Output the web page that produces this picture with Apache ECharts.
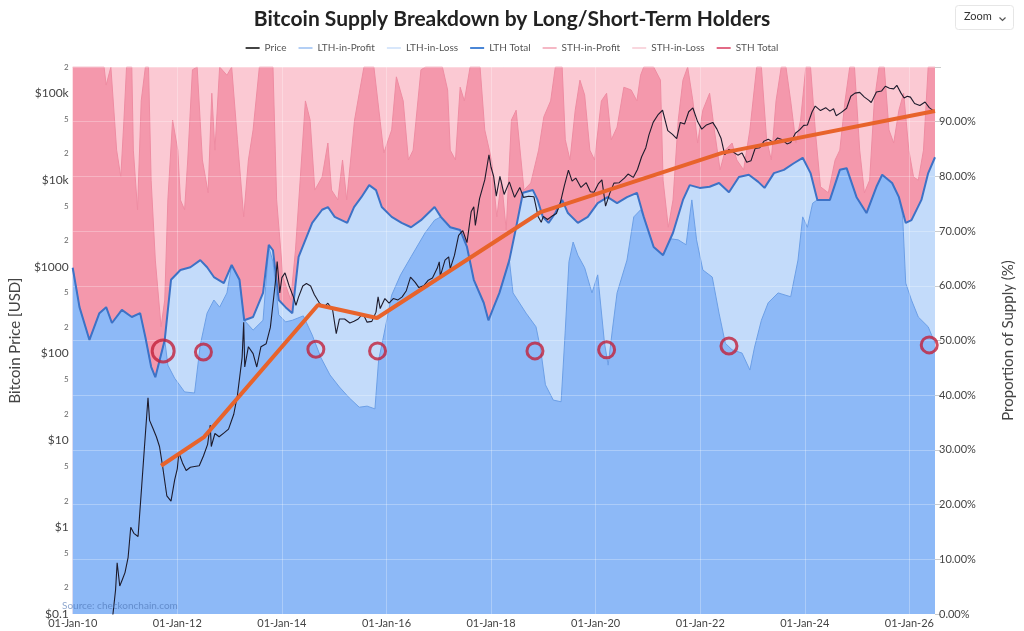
<!DOCTYPE html>
<html>
<head>
<meta charset="utf-8">
<script src="https://cdn.jsdelivr.net/npm/echarts/dist/echarts.min.js"></script>
<style>html,body{margin:0;padding:0;background:#fff}#c{width:1024px;height:631px}</style>
</head>
<body>
<div id="c"></div>
<script>
// ---------- data (decimal year, value) ----------
const xTickYears = [2010, 2012, 2014, 2016, 2018, 2020, 2022, 2024, 2026];
const priceTicks = [0.1,0.2,0.5,1,2,5,10,20,50,100,200,500,1000,2000,5000,10000,20000,50000,100000,200000];
const supplyTicks = [0,10,20,30,40,50,60,70,80,90];

// LTH Total, % of supply
const lthTotal = [
[2010.00,63.3],[2010.13,56.1],[2010.32,50.1],[2010.51,55.0],[2010.64,56.1],[2010.75,53.2],[2010.94,55.6],[2011.13,54.3],[2011.29,55.0],[2011.39,50.6],[2011.50,45.2],[2011.58,43.3],[2011.76,50.1],[2011.88,61.1],[2012.06,62.9],[2012.25,63.4],[2012.44,64.7],[2012.57,63.4],[2012.70,61.6],[2012.89,60.5],[2013.04,63.8],[2013.19,61.1],[2013.28,53.7],[2013.45,54.3],[2013.64,58.7],[2013.75,67.5],[2013.83,66.5],[2013.94,57.4],[2014.07,56.1],[2014.20,55.0],[2014.32,65.3],[2014.58,71.5],[2014.77,73.9],[2014.88,74.4],[2015.01,72.6],[2015.25,71.5],[2015.38,74.4],[2015.52,76.2],[2015.67,78.4],[2015.80,77.5],[2015.91,74.4],[2016.10,72.6],[2016.29,71.5],[2016.47,70.7],[2016.66,72.0],[2016.92,74.4],[2017.04,72.6],[2017.22,70.7],[2017.41,70.2],[2017.54,67.1],[2017.67,61.1],[2017.86,56.9],[2017.95,53.7],[2018.05,56.1],[2018.16,58.7],[2018.35,64.7],[2018.48,70.7],[2018.61,77.0],[2018.80,77.5],[2018.89,75.7],[2018.99,72.6],[2019.10,71.5],[2019.23,73.3],[2019.36,75.7],[2019.47,73.3],[2019.66,71.5],[2019.85,72.6],[2020.04,75.1],[2020.23,76.2],[2020.41,75.1],[2020.60,76.2],[2020.79,77.0],[2020.92,72.6],[2021.11,67.1],[2021.29,65.6],[2021.48,69.7],[2021.67,75.7],[2021.80,78.4],[2021.99,77.9],[2022.18,78.1],[2022.36,78.8],[2022.55,77.1],[2022.74,79.9],[2022.93,80.3],[2023.11,79.0],[2023.23,77.9],[2023.41,80.6],[2023.60,81.2],[2023.79,82.4],[2023.96,83.4],[2024.11,80.6],[2024.24,75.7],[2024.48,75.7],[2024.67,81.2],[2024.80,81.5],[2024.99,76.2],[2025.18,73.3],[2025.37,78.1],[2025.48,80.3],[2025.67,78.8],[2025.80,76.2],[2025.93,71.5],[2026.04,72.0],[2026.23,75.7],[2026.36,80.6],[2026.49,83.5]
];

// LTH-in-Profit, % of supply
const lthProfit = [
[2010.00,63.3],[2010.13,56.1],[2010.32,50.1],[2010.51,55.0],[2010.64,56.1],[2010.75,53.2],[2010.94,55.6],[2011.13,54.3],[2011.29,55.0],[2011.39,50.6],[2011.50,45.2],[2011.58,43.3],[2011.76,50.1],[2011.82,45.5],[2011.95,43.1],[2012.14,40.6],[2012.33,40.4],[2012.44,49.2],[2012.57,55.0],[2012.70,57.4],[2012.81,56.1],[2012.95,58.7],[2013.04,63.8],[2013.19,61.1],[2013.28,53.7],[2013.45,51.9],[2013.64,53.7],[2013.75,67.1],[2013.83,64.4],[2013.94,54.7],[2014.07,53.4],[2014.20,53.7],[2014.41,54.5],[2014.58,51.0],[2014.75,46.8],[2014.92,43.7],[2015.10,41.5],[2015.29,39.5],[2015.48,37.8],[2015.63,38.0],[2015.78,37.5],[2015.85,46.4],[2015.95,51.0],[2016.10,58.3],[2016.27,62.0],[2016.47,65.3],[2016.74,69.7],[2016.92,72.0],[2017.04,72.6],[2017.22,70.7],[2017.41,70.2],[2017.54,67.1],[2017.67,61.1],[2017.86,56.9],[2017.95,53.7],[2018.05,56.1],[2018.16,58.7],[2018.35,64.7],[2018.42,58.7],[2018.67,55.0],[2018.86,52.5],[2018.95,48.3],[2019.04,41.9],[2019.19,39.1],[2019.34,38.8],[2019.42,51.9],[2019.49,64.4],[2019.57,68.0],[2019.66,65.6],[2019.79,63.3],[2019.93,58.7],[2020.04,62.0],[2020.17,49.5],[2020.24,45.5],[2020.32,51.9],[2020.41,58.7],[2020.60,64.7],[2020.73,72.6],[2020.86,73.9],[2020.92,72.6],[2021.11,67.1],[2021.29,65.6],[2021.43,68.6],[2021.58,68.4],[2021.73,67.5],[2021.84,75.7],[2021.93,68.4],[2022.05,62.9],[2022.23,61.6],[2022.36,55.0],[2022.48,49.5],[2022.61,48.3],[2022.80,47.7],[2022.95,44.6],[2023.04,48.8],[2023.17,53.7],[2023.30,56.9],[2023.49,58.7],[2023.73,58.0],[2023.87,64.7],[2023.96,72.6],[2024.05,70.7],[2024.15,75.1],[2024.24,75.7],[2024.48,75.7],[2024.67,81.2],[2024.80,81.5],[2024.99,76.2],[2025.18,73.3],[2025.37,78.1],[2025.48,80.3],[2025.67,78.8],[2025.80,76.2],[2025.87,72.9],[2025.93,60.5],[2026.04,57.4],[2026.17,54.3],[2026.36,52.5],[2026.49,49.5]
];

// upper edge of the STH-in-Profit band (LTH + STH-in-Profit), % of supply
const sthProfitTop = [
[2010.00,100],[2010.60,100],[2010.64,96.7],[2010.73,100],[2010.84,84.8],[2010.92,79.9],[2010.98,90.3],[2011.03,100],[2011.13,100],[2011.16,84.8],[2011.24,73.9],[2011.31,93.8],[2011.39,100],[2011.45,100],[2011.50,79.3],[2011.58,64.7],[2011.69,52.5],[2011.76,57.4],[2011.82,75.7],[2011.91,90.3],[2012.01,84.8],[2012.06,75.7],[2012.14,73.9],[2012.20,83.0],[2012.29,99.5],[2012.38,100],[2012.48,83.0],[2012.59,77.0],[2012.66,95.2],[2012.72,84.8],[2012.81,100],[2012.95,98.5],[2013.04,100],[2013.15,86.7],[2013.27,72.6],[2013.36,83.0],[2013.45,88.5],[2013.57,100],[2013.83,100],[2013.90,75.7],[2014.02,61.6],[2014.17,57.4],[2014.26,66.5],[2014.35,79.3],[2014.45,93.8],[2014.54,90.3],[2014.63,77.5],[2014.77,79.9],[2014.88,86.1],[2014.95,77.5],[2015.07,75.7],[2015.16,83.0],[2015.24,75.7],[2015.39,90.3],[2015.48,95.2],[2015.57,100],[2015.76,100],[2015.95,84.3],[2016.10,88.5],[2016.19,98.2],[2016.32,93.8],[2016.42,83.0],[2016.51,84.8],[2016.66,99.5],[2016.75,100],[2017.07,100],[2017.17,95.8],[2017.22,84.8],[2017.32,83.0],[2017.41,96.3],[2017.49,93.8],[2017.60,100],[2017.79,100],[2017.88,88.5],[2018.01,83.0],[2018.11,72.6],[2018.20,79.3],[2018.29,70.2],[2018.39,90.3],[2018.48,92.1],[2018.63,77.5],[2018.76,78.8],[2018.91,84.8],[2019.01,90.9],[2019.14,93.8],[2019.23,100],[2019.36,100],[2019.42,86.7],[2019.51,83.0],[2019.61,92.1],[2019.70,97.6],[2019.79,94.9],[2019.89,84.8],[2019.98,83.0],[2020.11,93.8],[2020.21,95.2],[2020.30,86.7],[2020.41,89.0],[2020.54,96.3],[2020.68,95.8],[2020.79,93.8],[2020.86,98.5],[2020.92,100],[2021.11,100],[2021.24,97.6],[2021.29,79.3],[2021.39,70.7],[2021.48,75.7],[2021.58,90.3],[2021.67,97.6],[2021.76,100],[2021.86,93.8],[2021.95,86.1],[2022.05,92.1],[2022.18,95.2],[2022.27,88.5],[2022.38,81.2],[2022.48,84.8],[2022.61,86.1],[2022.70,83.0],[2022.83,81.2],[2022.95,88.5],[2023.08,100],[2023.17,100],[2023.27,86.7],[2023.36,83.0],[2023.45,93.8],[2023.55,100],[2023.64,100],[2023.73,93.8],[2023.83,86.1],[2023.92,90.3],[2024.02,100],[2024.11,100],[2024.20,88.5],[2024.30,78.1],[2024.45,77.0],[2024.58,83.0],[2024.67,84.8],[2024.77,93.8],[2024.86,100],[2024.95,100],[2025.05,84.8],[2025.14,77.0],[2025.24,79.3],[2025.33,93.8],[2025.42,100],[2025.52,100],[2025.61,88.5],[2025.70,86.1],[2025.80,92.1],[2025.89,95.2],[2025.99,84.8],[2026.08,79.9],[2026.17,79.3],[2026.27,84.8],[2026.36,100],[2026.49,100]
];

// upper edge of the STH-in-Loss band (top of the stack)
const sthLossTop = [[2010.00,100],[2026.49,100]];

// Bitcoin price, USD
const price = [
[2010.54,0.05],[2010.62,0.07],[2010.70,0.06],[2010.77,0.10],[2010.82,0.19],[2010.85,0.39],[2010.90,0.21],[2010.95,0.25],[2011.00,0.30],[2011.06,0.45],[2011.11,1.00],[2011.17,0.85],[2011.25,0.78],[2011.32,3.0],[2011.37,8.0],[2011.44,31],[2011.47,17],[2011.53,14],[2011.60,11],[2011.66,8.5],[2011.72,5.0],[2011.80,2.3],[2011.88,2.0],[2011.95,3.5],[2012.00,4.7],[2012.03,7.2],[2012.10,5.5],[2012.17,4.5],[2012.25,4.9],[2012.33,5.0],[2012.42,5.1],[2012.50,6.6],[2012.58,9.0],[2012.63,15],[2012.65,8.5],[2012.72,12],[2012.80,11],[2012.90,12.3],[2012.98,13.5],[2013.08,20],[2013.15,33],[2013.24,90],[2013.27,230],[2013.29,70],[2013.36,120],[2013.45,100],[2013.52,70],[2013.60,120],[2013.70,130],[2013.78,200],[2013.88,700],[2013.91,1150],[2013.96,500],[2014.00,750],[2014.06,850],[2014.14,600],[2014.22,450],[2014.27,360],[2014.32,450],[2014.40,600],[2014.47,640],[2014.55,600],[2014.62,480],[2014.72,380],[2014.80,340],[2014.88,380],[2014.97,320],[2015.04,170],[2015.10,250],[2015.20,250],[2015.30,225],[2015.38,235],[2015.46,250],[2015.55,290],[2015.63,230],[2015.72,235],[2015.80,300],[2015.84,450],[2015.88,330],[2015.97,430],[2016.05,380],[2016.13,430],[2016.22,415],[2016.30,450],[2016.38,530],[2016.46,760],[2016.55,660],[2016.62,575],[2016.72,610],[2016.80,700],[2016.88,740],[2016.97,960],[2017.01,1140],[2017.03,780],[2017.12,1190],[2017.19,1300],[2017.22,950],[2017.30,1350],[2017.38,2300],[2017.46,2600],[2017.54,1900],[2017.62,4300],[2017.67,4900],[2017.70,3000],[2017.78,6100],[2017.88,10000],[2017.96,19500],[2018.00,14000],[2018.05,11000],[2018.10,6500],[2018.17,11000],[2018.25,6800],[2018.35,9500],[2018.45,6300],[2018.55,8200],[2018.62,6300],[2018.72,6500],[2018.82,6400],[2018.90,3800],[2018.96,3250],[2019.00,3800],[2019.08,3500],[2019.17,3850],[2019.25,4100],[2019.32,5300],[2019.40,8500],[2019.48,13000],[2019.55,9700],[2019.62,10500],[2019.72,8200],[2019.82,9300],[2019.90,7300],[2019.97,7200],[2020.05,9000],[2020.12,10000],[2020.19,5000],[2020.27,7000],[2020.35,9200],[2020.45,9300],[2020.55,10500],[2020.62,11700],[2020.72,10700],[2020.80,13200],[2020.88,18500],[2020.96,23500],[2021.02,33000],[2021.10,46000],[2021.20,57000],[2021.28,63500],[2021.38,37000],[2021.47,33500],[2021.55,30000],[2021.62,46000],[2021.70,44000],[2021.78,61000],[2021.86,67500],[2021.95,47000],[2022.03,38500],[2022.12,43000],[2022.24,46000],[2022.32,38500],[2022.40,30000],[2022.47,19500],[2022.55,22500],[2022.63,21000],[2022.72,19300],[2022.80,20500],[2022.89,16000],[2022.97,16600],[2023.05,23000],[2023.14,23500],[2023.22,28000],[2023.30,29500],[2023.40,27000],[2023.48,30500],[2023.56,29200],[2023.66,26000],[2023.73,27000],[2023.82,34500],[2023.90,37700],[2023.98,42500],[2024.05,43000],[2024.14,61000],[2024.20,71000],[2024.30,63000],[2024.40,68000],[2024.48,62000],[2024.55,66000],[2024.60,55000],[2024.70,60000],[2024.80,67000],[2024.88,92000],[2024.96,100000],[2025.05,102000],[2025.14,90000],[2025.22,83000],[2025.27,78000],[2025.37,103000],[2025.47,106000],[2025.54,120000],[2025.62,114000],[2025.70,112000],[2025.76,123000],[2025.84,100000],[2025.90,88000],[2025.96,92000],[2026.02,90000],[2026.10,76000],[2026.20,72000],[2026.30,79000],[2026.38,68000],[2026.47,62000]
];

// hand-drawn trend annotation (USD)
const trendLine = [[2011.69,5.1],[2012.51,10.9],[2014.69,363],[2015.82,257],[2018.95,4270],[2022.42,20500],[2026.49,62400]];

// red circle annotations (% of supply)
const circleMarks = [[2011.73,48.1],[2012.50,47.9],[2014.65,48.4],[2015.83,48.1],[2018.84,48.1],[2020.21,48.3],[2022.55,49.0],[2026.38,49.2]];

// STH Total = remainder of supply above LTH Total
const sthTotal = lthTotal.map(p => [p[0], +(100 - p[1]).toFixed(1)]);

// ---------- chart ----------
const FONT = 'Lato, "Open Sans", sans-serif';
function fmtPrice(v) {
  const e = Math.floor(Math.log10(v) + 1e-9);
  const m = Math.round(v / Math.pow(10, e));
  if (m !== 1) return '{m|' + m + '}';
  if (v >= 100000) return '$100k';
  if (v >= 10000) return '$10k';
  if (v < 1) return '$0.1';
  return '$' + Math.round(v);
}

const chart = echarts.init(document.getElementById('c'), null, {renderer: 'canvas'});
chart.setOption({
  backgroundColor: '#fff',
  animation: false,
  textStyle: {fontFamily: FONT},
  title: {
    text: 'Bitcoin Supply Breakdown by Long/Short-Term Holders',
    left: 'center', top: 4,
    textStyle: {fontSize: 21, fontWeight: 'bold', color: '#222', fontFamily: FONT}
  },
  legend: {
    top: 38, left: 'center',
    icon: 'rect', itemWidth: 14, itemHeight: 2, itemGap: 12,
    textStyle: {fontSize: 10, color: '#555', fontFamily: FONT},
    data: [
      {name: 'Price', itemStyle: {color: '#444'}},
      {name: 'LTH-in-Profit', itemStyle: {color: '#b3cff5'}},
      {name: 'LTH-in-Loss', itemStyle: {color: '#d8e7fb'}},
      {name: 'LTH Total', itemStyle: {color: '#4a86d6'}},
      {name: 'STH-in-Profit', itemStyle: {color: '#f5b8c5'}},
      {name: 'STH-in-Loss', itemStyle: {color: '#f9d7de'}},
      {name: 'STH Total', itemStyle: {color: '#e26a86'}}
    ]
  },
  grid: {left: 58, right: 87, top: 67, bottom: 17, containLabel: false},
  xAxis: {
    type: 'value', min: 2010, max: 2026.49, interval: 2, z: 5,
    axisLine: {show: false}, axisTick: {show: false},
    axisLabel: {
      color: '#444', fontSize: 11, margin: 4,
      customValues: xTickYears,
      formatter: v => '01-Jan-' + String(Math.round(v)).slice(2)
    },
    splitLine: {show: true, lineStyle: {color: 'rgba(255,255,255,0.28)', width: 1}}
  },
  yAxis: [
    {
      type: 'log', logBase: 10, min: 0.1, max: 200000, position: 'left',
      axisLine: {show: false}, axisTick: {show: false}, splitLine: {show: false},
      axisLabel: {
        customValues: priceTicks, formatter: fmtPrice,
        color: '#444', fontSize: 12, margin: 4,
        rich: {m: {fontSize: 8, color: '#666'}}
      },
      name: 'Bitcoin Price [USD]', nameLocation: 'middle', nameGap: 38,
      nameTextStyle: {fontSize: 15, color: '#444'}
    },
    {
      type: 'value', min: 0, max: 100, interval: 10, position: 'right', z: 5,
      axisLine: {show: false},
      axisTick: {show: true, length: 6, lineStyle: {color: '#ccc'}},
      axisLabel: {
        color: '#444', fontSize: 11, margin: 4,
        formatter: v => (v >= 100 ? '' : v.toFixed(2) + '%')
      },
      splitLine: {show: true, lineStyle: {color: 'rgba(255,255,255,0.28)', width: 1}},
      name: 'Proportion of Supply (%)', nameLocation: 'middle', nameGap: 66,
      nameTextStyle: {fontSize: 15, color: '#444'}
    }
  ],
  series: [
    {name: 'STH-in-Loss', type: 'line', yAxisIndex: 1, data: sthLossTop, symbol: 'none',
     lineStyle: {width: 0}, areaStyle: {color: '#fbc9d3', opacity: 1}, itemStyle: {color: '#f9d7de'}, z: 1},
    {name: 'STH-in-Profit', type: 'line', yAxisIndex: 1, data: sthProfitTop, symbol: 'none',
     lineStyle: {width: 1, color: '#ee8ca2'}, areaStyle: {color: '#f498ac', opacity: 1}, itemStyle: {color: '#f5b8c5'}, z: 2},
    {name: 'LTH-in-Loss', type: 'line', yAxisIndex: 1, data: lthTotal, symbol: 'none',
     lineStyle: {width: 0}, areaStyle: {color: '#c3dbfa', opacity: 1}, itemStyle: {color: '#d8e7fb'}, z: 3},
    {name: 'LTH-in-Profit', type: 'line', yAxisIndex: 1, data: lthProfit, symbol: 'none',
     lineStyle: {width: 1, color: '#6c9fe6'}, areaStyle: {color: '#8db9f7', opacity: 1}, itemStyle: {color: '#b3cff5'}, z: 4},
    {name: 'LTH Total', type: 'line', yAxisIndex: 1, data: lthTotal, stack: 'supply', symbol: 'none',
     lineStyle: {width: 2, color: '#3d72c6'}, itemStyle: {color: '#4a86d6'}, z: 5},
    {name: 'STH Total', type: 'line', yAxisIndex: 1, data: sthTotal, stack: 'supply', symbol: 'none',
     lineStyle: {width: 1, color: '#f4aabb'}, itemStyle: {color: '#e26a86'}, z: 5},
    {name: 'Price', type: 'line', yAxisIndex: 0, data: price, symbol: 'none',
     lineStyle: {width: 1.1, color: '#1d1b2c'}, itemStyle: {color: '#444'}, z: 6},
    {name: 'Trend', type: 'line', yAxisIndex: 0, data: trendLine, symbol: 'none',
     lineStyle: {width: 4, color: '#e8632b'}, z: 7},
    {name: 'Marks', type: 'scatter', yAxisIndex: 1, data: circleMarks, symbol: 'circle',
     symbolSize: (v, p) => (p.dataIndex === 0 ? 22 : 16),
     itemStyle: {color: 'rgba(0,0,0,0)', borderColor: '#c22039', borderWidth: 3}, z: 8}
  ],
  graphic: [
    {type: 'rect', left: 955, top: 5, shape: {width: 58, height: 24, r: 3},
     style: {fill: '#fff', stroke: '#e6e6e6', lineWidth: 1}, z: 10},
    {type: 'text', left: 964, top: 11, style: {text: 'Zoom', fontSize: 11, fill: '#333', fontFamily: FONT}, z: 11},
    {type: 'polyline', left: 997, top: 15, shape: {points: [[0,0],[3,3],[6,0]]},
     style: {stroke: '#555', lineWidth: 1.2, fill: null}, z: 11},
    {type: 'text', left: 62, top: 601, style: {text: 'Source: checkonchain.com', fontSize: 10, fill: 'rgba(70,110,175,0.6)', fontFamily: FONT}, z: 11}
  ]
});
</script>
</body>
</html>
